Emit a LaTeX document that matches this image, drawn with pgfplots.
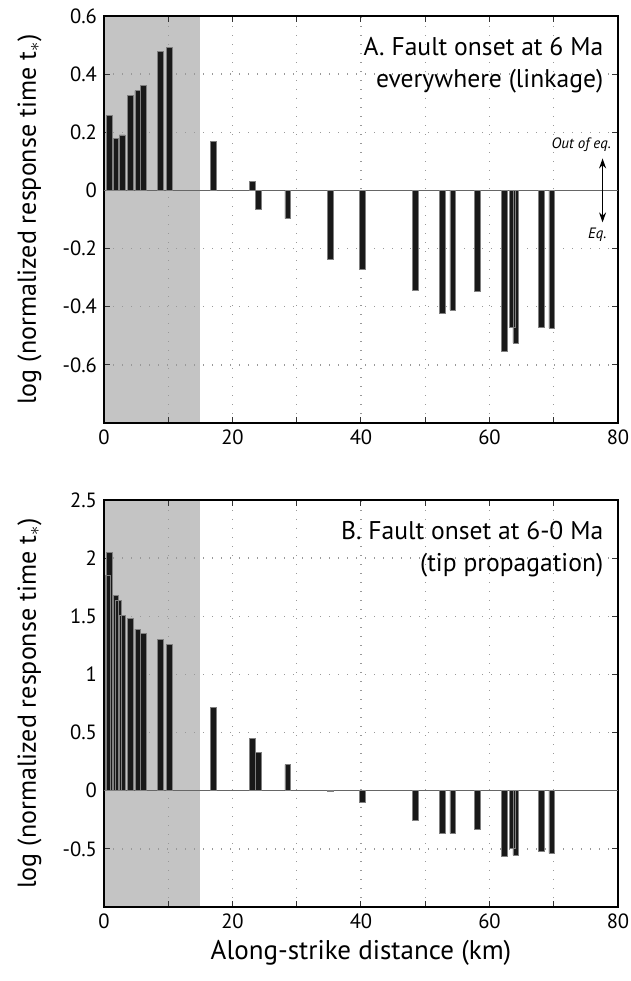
\documentclass[border=0pt]{standalone}
\usepackage{fontspec}
\setmainfont{PT Sans}
\usepackage{pgfplots}
\pgfplotsset{compat=1.18}
\usetikzlibrary{arrows.meta}

\pgfplotsset{
  panel/.style={
    set layers,
    width=257pt,height=203.5pt,scale only axis,anchor=south west,
    xmin=0,xmax=80,
    xtick={0,20,...,80},minor xtick={10,30,50,70},
    grid=both,
    major grid style={dash pattern=on 0.7pt off 3.8pt,line width=0.7pt,gray!80},
    minor grid style={dash pattern=on 0.7pt off 3.8pt,line width=0.7pt,gray!80},
    axis line style={line width=0.6pt},
    tick style={line width=0.5pt,black!80},
    major tick length=3pt,minor tick length=3pt,
    tick label style={font=\fontsize{10.3}{12}\selectfont},
    /pgf/number format/assume math mode=true,
    ylabel style={font=\fontsize{13}{15}\selectfont,at={(axis description cs:-0.145,0.5)},anchor=center},
    ylabel={log (normalized response time t$_{*}$)},
  },
  bars/.style={ybar,bar width=0.9,fill=black!90,draw=black!50,line width=0.3pt},
}

\begin{document}
\begin{tikzpicture}
% ---------- A ----------
\begin{axis}[panel,at={(52pt,279pt)},
  ymin=-0.8,ymax=0.6,ytick={-0.6,-0.4,-0.2,0,0.2,0.4,0.6},
  yticklabels={-0.6,-0.4,-0.2,0,0.2,0.4,0.6}]
  \addplot[on layer=axis background,fill=black!23,draw=none]
    coordinates {(0,-0.8) (0,0.6) (15,0.6) (15,-0.8)};
  \addplot[black!60,line width=0.6pt] coordinates {(0,0) (80,0)};
  \addplot[bars] coordinates {
    (0.88,0.257) (1.82,0.178) (2.83,0.191) (4.1,0.326) (5.25,0.343) (6.15,0.362)
    (8.8,0.477) (10.2,0.491) (17.0,0.169) (23.1,0.031) (24.0,-0.066) (28.6,-0.097)
    (35.2,-0.236) (40.2,-0.272) (48.5,-0.345) (52.6,-0.424) (54.3,-0.412)
    (58.1,-0.348) (62.3,-0.553) (63.6,-0.470) (64.1,-0.525) (68.1,-0.471) (69.7,-0.474)};
  \node[anchor=north east,align=right,font=\fontsize{12.8}{16}\selectfont]
    at (axis description cs:0.985,0.965) {A. Fault onset at 6 Ma\\everywhere (linkage)};
  \draw[{Stealth[length=5pt,width=3.5pt]}-{Stealth[length=5pt,width=3.5pt]},line width=0.6pt]
    (axis cs:77.6,0.11) -- (axis cs:77.6,-0.11);
  \node[anchor=south east,inner sep=1pt,font=\fontsize{7.5}{8}\selectfont\itshape]
    at (axis cs:79.3,0.125) {Out of eq.};
  \node[anchor=north east,inner sep=1pt,font=\fontsize{7.5}{8}\selectfont\itshape]
    at (axis cs:78.6,-0.12) {Eq.};
\end{axis}

% ---------- B ----------
\begin{axis}[panel,at={(52pt,37pt)},
  ymin=-1,ymax=2.5,ytick={-0.5,0,0.5,1,1.5,2,2.5},
  yticklabels={-0.5,0,0.5,1,1.5,2,2.5},
  xlabel={Along-strike distance (km)},
  xlabel style={font=\fontsize{13.5}{15}\selectfont,at={(axis description cs:0.5,0)},anchor=center,yshift=-23pt}]
  \addplot[on layer=axis background,fill=black!23,draw=none]
    coordinates {(0,-1) (0,2.5) (15,2.5) (15,-1)};
  \addplot[black!60,line width=0.6pt] coordinates {(0,0) (80,0)};
  \addplot[bars] coordinates {
    (0.6,1.85) (0.88,2.05) (1.82,1.68) (2.2,1.64) (2.83,1.51) (4.1,1.485) (5.25,1.39) (6.15,1.35)
    (8.8,1.30) (10.2,1.26) (17.0,0.714) (23.1,0.447) (24.0,0.33) (28.6,0.224)
    (35.2,-0.005) (40.2,-0.10) (48.5,-0.252) (52.6,-0.366) (54.3,-0.366)
    (58.1,-0.332) (62.3,-0.567) (63.6,-0.495) (64.1,-0.553) (68.1,-0.524) (69.7,-0.538)};
  \node[anchor=north east,align=right,font=\fontsize{12.8}{16}\selectfont]
    at (axis description cs:0.985,0.965) {B. Fault onset at 6-0 Ma\\(tip propagation)};
\end{axis}
\pgfresetboundingbox
\path[use as bounding box] (0,0) rectangle (315.5pt,490.5pt);
\end{tikzpicture}
\end{document}
